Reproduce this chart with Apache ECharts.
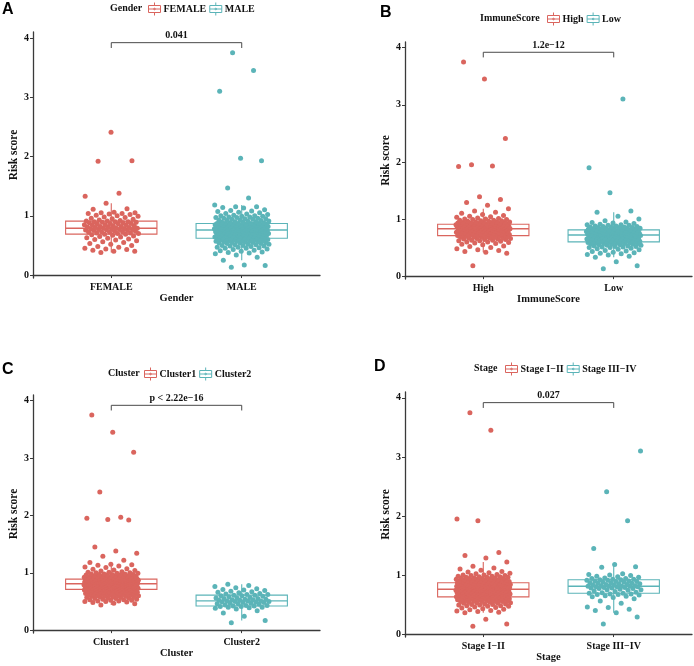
<!DOCTYPE html>
<html><head><meta charset="utf-8">
<script src="https://cdn.jsdelivr.net/npm/echarts@6/dist/echarts.min.js"></script>
<style>html,body{margin:0;padding:0;background:#fff}#c{width:694px;height:666px}</style>
</head><body><div id="c"></div>
<script>
// ---------- data ----------
const varNames = ['Gender', 'ImmuneScore', 'Cluster', 'Stage'];
const groupNames = [['FEMALE', 'MALE'], ['High', 'Low'], ['Cluster1', 'Cluster2'], ['Stage I\u2212II', 'Stage III\u2212IV']];
const pLabels = ['0.041', '1.2e\u221212', 'p < 2.22e\u221216', '0.027'];
const yTicks = [0, 1, 2, 3, 4];
const panelLetters = ['A', 'B', 'C', 'D'];

// box stats: [lower whisker, Q1, median, Q3, upper whisker]
const boxFemale = [0.38, 0.69, 0.79, 0.91, 1.21];
const boxMale = [0.25, 0.62, 0.76, 0.87, 1.18];
const boxHigh = [0.42, 0.71, 0.83, 0.91, 1.18];
const boxLow = [0.33, 0.60, 0.72, 0.81, 1.12];
const boxCluster1 = [0.44, 0.71, 0.81, 0.89, 1.15];
const boxCluster2 = [0.17, 0.42, 0.51, 0.61, 0.80];
const boxStage12 = [0.36, 0.63, 0.76, 0.87, 1.22];
const boxStage34 = [0.36, 0.69, 0.81, 0.92, 1.18];

// bracket: [tip value, top value]
const bracketYs = [3.83, 3.92];

const femaleScores = [0.38,0.40,0.40,0.42,0.43,0.44,0.45,0.47,0.48,0.50,0.52,0.53,0.55,0.56,0.58,0.59,0.60,0.61,0.62,0.63,0.64,0.65,0.66,0.67,0.68,
0.69,0.69,0.70,0.70,0.71,0.71,0.72,0.72,0.73,0.73,0.74,0.74,0.75,0.75,0.76,0.76,0.77,0.77,0.77,0.78,0.78,0.78,0.79,0.79,0.79,
0.80,0.80,0.81,0.81,0.82,0.82,0.83,0.83,0.84,0.84,0.85,0.85,0.86,0.86,0.87,0.87,0.88,0.88,0.89,0.89,0.90,0.90,0.90,0.91,0.91,
0.92,0.93,0.94,0.95,0.96,0.97,0.98,0.99,1.00,1.01,1.02,1.03,1.04,1.04,1.05,1.05,1.06,1.11,1.12,1.21,1.33,1.38,1.92,1.93,2.41];

const maleScores = [0.13,0.16,0.17,0.25,0.30,0.34,0.36,0.37,0.38,0.39,0.40,0.41,0.42,0.43,0.44,0.45,0.45,0.46,0.47,0.47,0.48,0.49,0.49,0.50,0.50,0.51,0.51,0.52,0.52,0.53,0.53,0.54,0.54,0.55,0.55,0.55,0.56,0.56,0.56,0.57,0.57,0.57,0.58,0.58,0.58,0.59,0.59,0.59,0.60,0.60,0.60,0.61,0.61,0.61,0.62,
0.62,0.62,0.63,0.63,0.63,0.64,0.64,0.64,0.65,0.65,0.65,0.66,0.66,0.66,0.67,0.67,0.67,0.67,0.68,0.68,0.68,0.68,0.69,0.69,0.69,0.69,0.70,0.70,0.70,0.70,0.71,0.71,0.71,0.71,0.72,0.72,0.72,0.72,0.73,0.73,0.73,0.73,0.74,0.74,0.74,0.74,0.75,0.75,0.75,0.75,0.76,0.76,0.76,0.76,0.76,
0.77,0.77,0.77,0.77,0.77,0.78,0.78,0.78,0.78,0.78,0.79,0.79,0.79,0.79,0.79,0.80,0.80,0.80,0.80,0.80,0.81,0.81,0.81,0.81,0.81,0.82,0.82,0.82,0.82,0.82,0.83,0.83,0.83,0.83,0.83,0.84,0.84,0.84,0.84,0.84,0.85,0.85,0.85,0.85,0.85,0.86,0.86,0.86,0.86,0.86,0.87,0.87,0.87,0.87,0.87,
0.88,0.88,0.89,0.89,0.90,0.90,0.91,0.91,0.92,0.92,0.93,0.93,0.94,0.94,0.95,0.95,0.96,0.96,0.97,0.97,0.98,0.98,0.99,0.99,1.00,1.00,1.01,1.02,1.03,1.04,1.05,1.06,1.07,1.08,1.09,1.10,1.13,1.14,1.15,1.15,1.18,1.30,1.47,1.93,1.97,3.10,3.45,3.75];

const highScores = [0.18,0.40,0.42,0.43,0.45,0.46,0.48,0.50,0.52,0.53,0.55,0.56,0.57,0.58,0.59,0.60,0.60,0.61,0.62,0.62,0.63,0.63,0.64,0.64,0.65,0.65,0.66,0.66,0.67,0.67,0.67,0.68,0.68,0.68,0.69,0.69,0.69,0.70,0.70,0.70,0.71,0.71,
0.72,0.72,0.72,0.72,0.73,0.73,0.73,0.74,0.74,0.74,0.74,0.75,0.75,0.75,0.76,0.76,0.76,0.76,0.77,0.77,0.77,0.78,0.78,0.78,0.78,0.79,0.79,0.79,0.80,0.80,0.80,0.80,0.81,0.81,0.81,0.82,0.82,0.82,0.82,0.83,0.83,0.83,
0.84,0.84,0.84,0.84,0.84,0.85,0.85,0.85,0.85,0.85,0.86,0.86,0.86,0.86,0.86,0.87,0.87,0.87,0.87,0.87,0.88,0.88,0.88,0.88,0.88,0.89,0.89,0.89,0.89,0.89,0.90,0.90,0.90,0.90,0.90,0.90,0.91,0.91,0.91,0.91,0.91,0.91,
0.92,0.92,0.92,0.93,0.93,0.93,0.94,0.94,0.94,0.95,0.95,0.95,0.96,0.96,0.97,0.97,0.98,0.98,0.99,0.99,1.00,1.00,1.01,1.02,1.03,1.04,1.05,1.06,1.08,1.10,1.12,1.14,1.18,1.24,1.29,1.34,1.39,1.92,1.93,1.95,2.41,3.45,3.75];

const lowScores = [0.13,0.18,0.25,0.33,0.35,0.37,0.38,0.39,0.40,0.41,0.42,0.43,0.44,0.45,0.46,0.47,0.48,0.49,0.50,0.50,0.51,0.51,0.52,0.52,0.53,0.53,0.54,0.54,0.55,0.55,0.56,0.56,0.56,0.57,0.57,0.57,0.58,0.58,0.58,0.59,0.59,0.59,
0.60,0.60,0.60,0.60,0.61,0.61,0.61,0.62,0.62,0.62,0.62,0.63,0.63,0.63,0.64,0.64,0.64,0.64,0.65,0.65,0.65,0.66,0.66,0.66,0.66,0.67,0.67,0.67,0.68,0.68,0.68,0.68,0.69,0.69,0.69,0.70,0.70,0.70,0.70,0.71,0.71,0.71,
0.72,0.72,0.72,0.72,0.72,0.73,0.73,0.73,0.73,0.73,0.74,0.74,0.74,0.74,0.74,0.75,0.75,0.75,0.75,0.75,0.76,0.76,0.76,0.76,0.76,0.77,0.77,0.77,0.77,0.77,0.78,0.78,0.78,0.78,0.79,0.79,0.79,0.79,0.80,0.80,0.80,0.80,
0.81,0.81,0.81,0.82,0.82,0.82,0.83,0.83,0.83,0.84,0.84,0.84,0.85,0.85,0.85,0.86,0.86,0.86,0.87,0.87,0.88,0.88,0.89,0.89,0.90,0.90,0.91,0.92,0.93,0.94,0.95,0.97,1.00,1.05,1.12,1.14,1.46,1.90,3.10];

const cluster1Scores = [0.44,0.46,0.47,0.48,0.49,0.50,0.50,0.51,0.51,0.52,0.52,0.53,0.53,0.54,0.54,0.55,0.55,0.56,0.56,0.57,0.57,0.58,0.58,0.58,0.59,0.59,0.59,0.60,0.60,0.60,0.61,0.61,0.61,0.62,0.62,0.62,0.63,0.63,0.63,0.64,0.64,0.64,0.65,0.65,0.65,0.66,0.66,0.66,0.66,0.67,0.67,0.67,0.67,0.68,0.68,0.68,0.68,0.69,0.69,0.69,0.69,0.70,0.70,0.70,0.70,
0.71,0.71,0.71,0.71,0.71,0.71,0.72,0.72,0.72,0.72,0.72,0.72,0.73,0.73,0.73,0.73,0.73,0.73,0.74,0.74,0.74,0.74,0.74,0.74,0.75,0.75,0.75,0.75,0.75,0.75,0.76,0.76,0.76,0.76,0.76,0.76,0.77,0.77,0.77,0.77,0.77,0.77,0.78,0.78,0.78,0.78,0.78,0.78,0.79,0.79,0.79,0.79,0.79,0.79,0.80,0.80,0.80,0.80,0.80,0.80,0.81,0.81,0.81,0.81,0.81,
0.82,0.82,0.82,0.82,0.82,0.82,0.82,0.82,0.83,0.83,0.83,0.83,0.83,0.83,0.83,0.83,0.84,0.84,0.84,0.84,0.84,0.84,0.84,0.84,0.85,0.85,0.85,0.85,0.85,0.85,0.85,0.85,0.86,0.86,0.86,0.86,0.86,0.86,0.86,0.86,0.87,0.87,0.87,0.87,0.87,0.87,0.87,0.87,0.88,0.88,0.88,0.88,0.88,0.88,0.88,0.88,0.89,0.89,0.89,0.89,0.89,0.89,0.89,0.89,0.89,
0.90,0.90,0.90,0.90,0.91,0.91,0.91,0.91,0.92,0.92,0.92,0.92,0.93,0.93,0.93,0.93,0.94,0.94,0.94,0.95,0.95,0.95,0.96,0.96,0.96,0.97,0.97,0.97,0.98,0.98,0.98,0.99,0.99,1.00,1.00,1.01,1.01,1.02,1.03,1.04,1.05,1.06,1.07,1.09,1.10,1.12,1.13,1.14,1.15,1.18,1.22,1.29,1.34,1.38,1.45,1.92,1.93,1.95,1.97,2.41,3.10,3.45,3.75];

const cluster2Scores = [0.13,0.17,0.24,0.30,0.34,0.37,0.38,0.39,0.40,0.40,0.41,0.41,0.42,0.42,0.43,0.43,0.44,0.45,0.46,0.46,0.47,0.47,0.48,0.48,0.49,0.49,0.50,0.50,0.51,0.51,0.51,0.52,0.52,0.53,0.53,0.54,0.54,0.55,0.55,0.56,0.56,0.57,0.58,0.59,0.60,0.60,0.61,0.61,0.62,0.62,0.63,0.64,0.65,0.66,0.67,0.68,0.69,0.70,0.71,0.72,0.74,0.76,0.78,0.80];

const stage12Scores = [0.13,0.17,0.25,0.36,0.37,0.38,0.39,0.40,0.41,0.42,0.43,0.44,0.45,0.46,0.47,0.47,0.48,0.48,0.49,0.49,0.50,0.50,0.51,0.51,0.52,0.52,0.53,0.53,0.54,0.54,0.55,0.55,0.55,0.56,0.56,0.56,0.57,0.57,0.57,0.58,0.58,0.58,0.59,0.59,0.59,0.59,0.60,0.60,0.60,0.60,0.61,0.61,0.61,0.61,0.62,0.62,0.62,0.62,0.63,0.63,0.63,0.63,
0.64,0.64,0.64,0.64,0.64,0.65,0.65,0.65,0.65,0.65,0.66,0.66,0.66,0.66,0.66,0.67,0.67,0.67,0.67,0.67,0.68,0.68,0.68,0.68,0.68,0.69,0.69,0.69,0.69,0.69,0.70,0.70,0.70,0.70,0.70,0.71,0.71,0.71,0.71,0.71,0.72,0.72,0.72,0.72,0.72,0.73,0.73,0.73,0.73,0.73,0.74,0.74,0.74,0.74,0.74,0.75,0.75,0.75,0.75,0.75,0.76,0.76,
0.77,0.77,0.77,0.77,0.77,0.77,0.78,0.78,0.78,0.78,0.78,0.78,0.79,0.79,0.79,0.79,0.79,0.79,0.80,0.80,0.80,0.80,0.80,0.80,0.81,0.81,0.81,0.81,0.81,0.81,0.82,0.82,0.82,0.82,0.82,0.82,0.83,0.83,0.83,0.83,0.83,0.83,0.84,0.84,0.84,0.84,0.84,0.84,0.85,0.85,0.85,0.85,0.85,0.85,0.86,0.86,0.86,0.86,0.86,0.86,0.87,0.87,
0.88,0.88,0.88,0.88,0.89,0.89,0.89,0.89,0.90,0.90,0.90,0.90,0.91,0.91,0.91,0.92,0.92,0.92,0.93,0.93,0.93,0.94,0.94,0.94,0.95,0.95,0.95,0.96,0.96,0.96,0.97,0.97,0.98,0.98,0.99,0.99,1.00,1.00,1.01,1.02,1.03,1.04,1.05,1.06,1.08,1.10,1.12,1.15,1.22,1.29,1.33,1.38,1.92,1.95,3.45,3.75];

const stage34Scores = [0.17,0.29,0.36,0.40,0.42,0.45,0.46,0.52,0.56,0.60,0.62,0.63,0.64,0.65,0.66,0.67,0.67,0.68,0.68,0.69,0.69,
0.70,0.71,0.72,0.73,0.74,0.75,0.75,0.76,0.77,0.77,0.78,0.78,0.79,0.79,0.80,0.80,0.80,0.81,0.81,0.81,0.81,
0.82,0.82,0.83,0.83,0.84,0.84,0.85,0.85,0.86,0.86,0.87,0.87,0.88,0.88,0.89,0.89,0.90,0.90,0.91,0.91,0.92,
0.92,0.93,0.93,0.94,0.94,0.95,0.96,0.97,0.98,0.99,1.00,1.01,1.02,1.13,1.14,1.18,1.45,1.92,2.41,3.10];

const scoreSets = [[femaleScores, maleScores], [highScores, lowScores], [cluster1Scores, cluster2Scores], [stage12Scores, stage34Scores]];
const boxSets = [[boxFemale, boxMale], [boxHigh, boxLow], [boxCluster1, boxCluster2], [boxStage12, boxStage34]];

// ---------- styling / layout ----------
const COLORS = ['#DA655E', '#5BB4B8'];
const SERIF = '"Liberation Serif","Times New Roman",serif';
const SANS = '"Liberation Sans",Arial,sans-serif';
const AXIS = '#3a3a3a';
const layout = [
  { left: 33,  top: 32,  height: 246, letterX: 2,   letterY: 2,   titleX: 110, legX: 148, legY: 2 },
  { left: 405, top: 42,  height: 237, letterX: 380, letterY: 5,   titleX: 480, legX: 547, legY: 12 },
  { left: 33,  top: 395, height: 238, letterX: 2,   letterY: 362, titleX: 108, legX: 144, legY: 367 },
  { left: 405, top: 392, height: 245, letterX: 374, letterY: 359, titleX: 474, legX: 505, legY: 362 }
];
const PLOT_W = 287;
const BOX_HALF = 0.35;
const JITTER = 0.21;
function jit(i) { return ((i * 0.6180339887 + 0.31) % 1 - 0.5) * 2 * JITTER; }

const ICON = 'path://M6,0L6,3M0,3L12,3L12,10L0,10ZM0,6.5L12,6.5M6,10L6,13M5.2,6.5a0.8,0.8 0 1,0 1.6,0a0.8,0.8 0 1,0 -1.6,0';

const grid = [], xAxis = [], yAxis = [], series = [], legend = [], title = [];
layout.forEach((L, p) => {
  grid.push({ left: L.left, top: L.top, width: PLOT_W, height: L.height, containLabel: false });
  const names = groupNames[p];
  xAxis.push({
    gridIndex: p, type: 'value', min: 0.4, max: 2.6,
    name: varNames[p], nameLocation: 'middle', nameGap: 15,
    nameTextStyle: { fontFamily: SERIF, fontWeight: 'bold', fontSize: 10.5, color: '#111' },
    axisLine: { show: true, lineStyle: { color: AXIS, width: 1.3 } },
    axisTick: { show: true, length: 3, customValues: [1, 2], lineStyle: { color: AXIS } },
    axisLabel: { customValues: [1, 2], margin: 4, fontFamily: SERIF, fontWeight: 'bold', fontSize: 10, color: '#111',
      formatter: v => names[Math.round(v) - 1] },
    splitLine: { show: false }
  });
  yAxis.push({
    gridIndex: p, type: 'value', min: -0.05, max: 4.1,
    name: 'Risk score', nameLocation: 'middle', nameGap: 10,
    nameTextStyle: { fontFamily: SERIF, fontWeight: 'bold', fontSize: 11.5, color: '#111' },
    axisLine: { show: true, lineStyle: { color: AXIS, width: 1.3 } },
    axisTick: { show: true, length: 3, customValues: yTicks, lineStyle: { color: AXIS } },
    axisLabel: { customValues: yTicks, margin: 4, fontFamily: SERIF, fontWeight: 'bold', fontSize: 10, color: '#111' },
    splitLine: { show: false }
  });
  // boxes (drawn first)
  [0, 1].forEach(g => {
    const b = boxSets[p][g];
    series.push({
      type: 'custom', name: names[g], xAxisIndex: p, yAxisIndex: p, z: 2,
      itemStyle: { color: COLORS[g] },
      encode: { x: 0, y: [1, 2, 3, 4, 5] },
      data: [[g + 1].concat(b)],
      renderItem: (params, api) => {
        const x = api.value(0);
        const pts = [1, 2, 3, 4, 5].map(k => api.coord([x, api.value(k)]));
        const hw = api.size([BOX_HALF, 0])[0];
        const cx = pts[0][0];
        const st = { stroke: COLORS[g], lineWidth: 1.1, fill: 'none' };
        return { type: 'group', children: [
          { type: 'line', shape: { x1: cx, y1: pts[4][1], x2: cx, y2: pts[3][1] }, style: st },
          { type: 'line', shape: { x1: cx, y1: pts[1][1], x2: cx, y2: pts[0][1] }, style: st },
          { type: 'rect', shape: { x: cx - hw, y: pts[3][1], width: 2 * hw, height: pts[1][1] - pts[3][1] }, style: st },
          { type: 'line', shape: { x1: cx - hw, y1: pts[2][1], x2: cx + hw, y2: pts[2][1] }, style: Object.assign({}, st, { lineWidth: 1.4 }) }
        ] };
      }
    });
  });
  // jittered points
  [0, 1].forEach(g => {
    series.push({
      type: 'scatter', name: names[g], xAxisIndex: p, yAxisIndex: p, z: 3,
      symbol: 'circle', symbolSize: 5,
      itemStyle: { color: COLORS[g], opacity: 1 },
      data: scoreSets[p][g].map((v, i) => [g + 1 + jit(i), v])
    });
  });
  // significance bracket
  series.push({
    type: 'custom', xAxisIndex: p, yAxisIndex: p, z: 4, silent: true,
    encode: { x: [0, 1], y: [2, 3] },
    data: [[1, 2, bracketYs[0], bracketYs[1]]],
    renderItem: (params, api) => {
      const a = api.coord([api.value(0), api.value(2)]);
      const b = api.coord([api.value(0), api.value(3)]);
      const c = api.coord([api.value(1), api.value(3)]);
      const d = api.coord([api.value(1), api.value(2)]);
      return { type: 'group', children: [
        { type: 'polyline', shape: { points: [a, b, c, d] }, style: { stroke: '#4a4a4a', lineWidth: 1, fill: 'none' } },
        { type: 'text', x: (b[0] + c[0]) / 2, y: b[1] - 2,
          style: { text: pLabels[p], fill: '#111', font: 'bold 10px ' + SERIF, align: 'center', verticalAlign: 'bottom' } }
      ] };
    }
  });
  legend.push({
    data: names.map((n, g) => ({ name: n, itemStyle: { color: 'rgba(0,0,0,0)', borderColor: COLORS[g], borderWidth: 1 } })),
    icon: ICON, itemWidth: 12, itemHeight: 13, itemGap: 3, left: L.legX, top: L.legY, padding: 0,
    selectedMode: false,
    textStyle: { fontFamily: SERIF, fontWeight: 'bold', fontSize: 10, color: '#111', padding: [0, 0, 0, -2] }
  });
  title.push({ text: varNames[p], left: L.titleX, top: L.legY + 1, padding: 0,
    textStyle: { fontFamily: SERIF, fontWeight: 'bold', fontSize: 10, color: '#111' } });
  title.push({ text: panelLetters[p], left: L.letterX, top: L.letterY, padding: 0,
    textStyle: { fontFamily: SANS, fontWeight: 'bold', fontSize: 16, color: '#000' } });
});

const chart = echarts.init(document.getElementById('c'), null, { renderer: 'canvas' });
chart.setOption({ animation: false, backgroundColor: '#fff', title, legend, grid, xAxis, yAxis, series });
</script></body></html>
